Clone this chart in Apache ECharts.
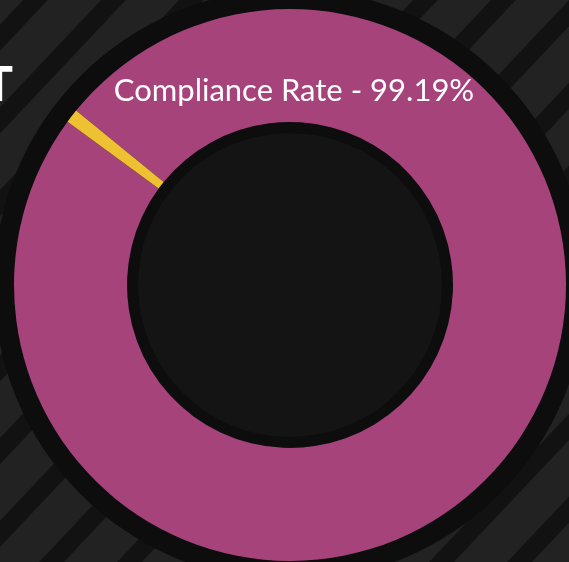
<!DOCTYPE html>
<html>
<head>
<meta charset="utf-8">
<script src="https://cdn.jsdelivr.net/npm/echarts@6/dist/echarts.min.js"></script>
<style>
html,body{margin:0;padding:0;background:#161616;}
#c{width:569px;height:562px;}
</style>
</head>
<body>
<div id="c"></div>
<script>
const categories = ["Compliant", "Non-compliant"];
const values = [99.19, 0.81];
const labelText = "Compliance Rate - 99.19%";
const colors = ["#a6437b", "#eec133"];

const chart = echarts.init(document.getElementById('c'));
const cx = 290, cy = 285;
const stripes = [];
for (let i = -6; i < 8; i++) {
  const off = i * 78;
  stripes.push({
    type: 'line', silent: true, z: -10,
    shape: { x1: off - 100, y1: 640, x2: off + 560, y2: -60 },
    style: { stroke: 'rgba(0,0,0,0.45)', lineWidth: 18 }
  });
}
chart.setOption({
  backgroundColor: '#222222',
  animation: false,
  graphic: stripes.concat([
    { type: 'circle', silent: true, z: -5, shape: { cx: cx, cy: cy, r: 296 }, style: { fill: '#0d0d0d' } },
    { type: 'circle', silent: true, z: 10, shape: { cx: cx, cy: cy, r: 152 }, style: { fill: '#141414' } },
    { type: 'text', silent: true, z: 10, x: 13, y: 62,
      style: { text: 'T', fill: '#ffffff', fontSize: 48, fontWeight: 900, fontFamily: 'Lato', align: 'right', verticalAlign: 'top' } },
    { type: 'text', silent: true, z: 20, x: 294, y: 75,
      style: { text: labelText, fill: '#ffffff', fontSize: 31, fontFamily: 'Lato', align: 'center', verticalAlign: 'top' } }
  ]),
  series: [{
    type: 'pie',
    center: [cx, cy],
    radius: [163, 276],
    startAngle: 140.8,
    clockwise: true,
    silent: true,
    label: { show: false },
    labelLine: { show: false },
    itemStyle: { borderWidth: 0 },
    data: categories.map((c, i) => ({ name: c, value: values[i], itemStyle: { color: colors[i] } }))
  }]
});
</script>
</body>
</html>
